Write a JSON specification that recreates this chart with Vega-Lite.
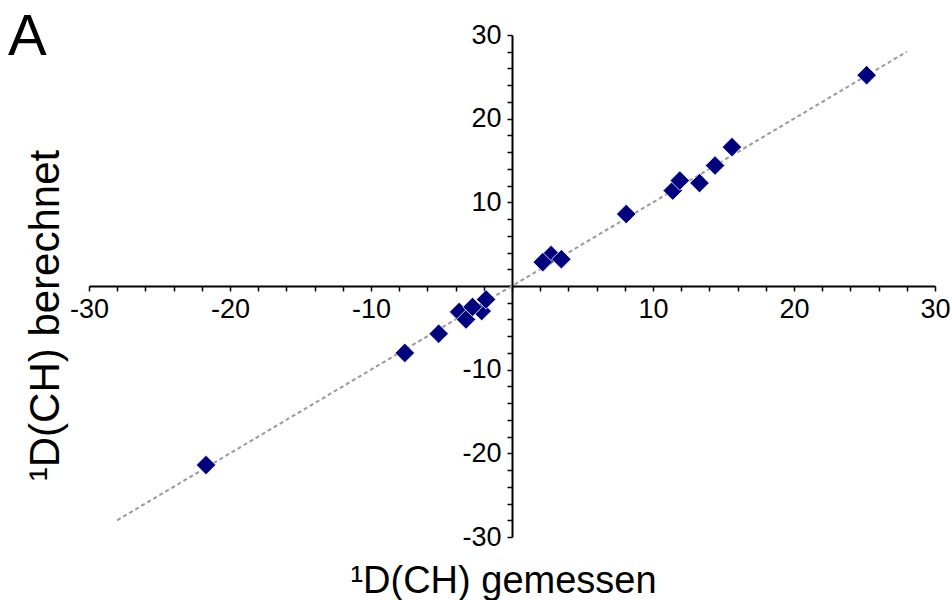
{
  "$schema": "https://vega.github.io/schema/vega-lite/v6.json",
  "width": 846,
  "height": 502,
  "autosize": {"type": "none"},
  "padding": {"left": 89, "top": 35, "right": 17, "bottom": 63},
  "background": "white",
  "config": {"view": {"stroke": null}, "font": "Liberation Sans", "axis": {"labelOverlap": false}},
  "title": {"text": "A", "anchor": "start", "frame": "group", "fontSize": 58, "fontWeight": "normal", "font": "Liberation Sans", "color": "black", "dx": -81, "dy": 50},
  "datasets": {
    "pts": [
      {"x": -2.15, "y": -3.0},
      {"x": 25.15, "y": 25.2},
      {"x": -21.7, "y": -21.4},
      {"x": -7.6, "y": -8.0},
      {"x": -5.2, "y": -5.7},
      {"x": -3.75, "y": -3.1},
      {"x": -3.26, "y": -4.0},
      {"x": -2.8, "y": -2.5},
      {"x": -1.84, "y": -1.6},
      {"x": 2.77, "y": 3.7},
      {"x": 2.18, "y": 2.85},
      {"x": 3.5, "y": 3.2},
      {"x": 8.1, "y": 8.6},
      {"x": 11.4, "y": 11.4},
      {"x": 11.9, "y": 12.6},
      {"x": 13.3, "y": 12.3},
      {"x": 14.4, "y": 14.4},
      {"x": 15.6, "y": 16.6}
    ],
    "fit": [
      {"x": -28, "y": -28},
      {"x": 28, "y": 28}
    ]
  },
  "encoding": {
    "x": {
      "field": "x", "type": "quantitative",
      "scale": {"domain": [-30, 30], "nice": false, "zero": false},
      "axis": {
        "orient": "bottom", "offset": -251,
        "values": [-30,-28,-26,-24,-22,-20,-18,-16,-14,-12,-10,-8,-6,-4,-2,0,2,4,6,8,10,12,14,16,18,20,22,24,26,28,30],
        "labelExpr": "(datum.value % 10 === 0 && datum.value !== 0) ? toString(datum.value) : ''",
        "grid": false, "domainColor": "black", "domainWidth": 2,
        "tickColor": "black", "tickWidth": 1.5, "tickSize": 5,
        "labelFontSize": 27, "labelColor": "black", "labelFont": "Liberation Sans",
        "labelFlush": false, "labelOverlap": false, "labelPadding": 5,
        "title": "¹D(CH) gemessen", "titleFontSize": 38, "titleFontWeight": "normal",
        "titleColor": "black", "titleFont": "Liberation Sans",
        "titleX": 414, "titleY": 306, "titleBaseline": "alphabetic"
      }
    },
    "y": {
      "field": "y", "type": "quantitative",
      "scale": {"domain": [-30, 30], "nice": false, "zero": false},
      "axis": {
        "orient": "left", "offset": -423,
        "values": [-30,-28,-26,-24,-22,-20,-18,-16,-14,-12,-10,-8,-6,-4,-2,0,2,4,6,8,10,12,14,16,18,20,22,24,26,28,30],
        "labelExpr": "(datum.value % 10 === 0 && datum.value !== 0) ? toString(datum.value) : ''",
        "grid": false, "domainColor": "black", "domainWidth": 2,
        "tickColor": "black", "tickWidth": 1.5, "tickSize": 5,
        "labelFontSize": 27, "labelColor": "black", "labelFont": "Liberation Sans",
        "labelFlush": false, "labelOverlap": false, "labelPadding": 6,
        "title": "¹D(CH) berechnet", "titleFontSize": 42, "titleFontWeight": "normal",
        "titleColor": "black", "titleFont": "Liberation Sans",
        "titleX": -454, "titleY": 280, "titleBaseline": "alphabetic", "titleAngle": -90
      }
    }
  },
  "layer": [
    {
      "data": {"name": "fit"},
      "mark": {"type": "line", "color": "#9a9a9a", "strokeDash": [4, 3], "strokeWidth": 2}
    },
    {
      "data": {"name": "pts"},
      "mark": {"type": "point", "shape": "diamond", "filled": true, "size": 380, "color": "#00007f", "stroke": "white", "strokeWidth": 0.8, "opacity": 1}
    }
  ]
}
